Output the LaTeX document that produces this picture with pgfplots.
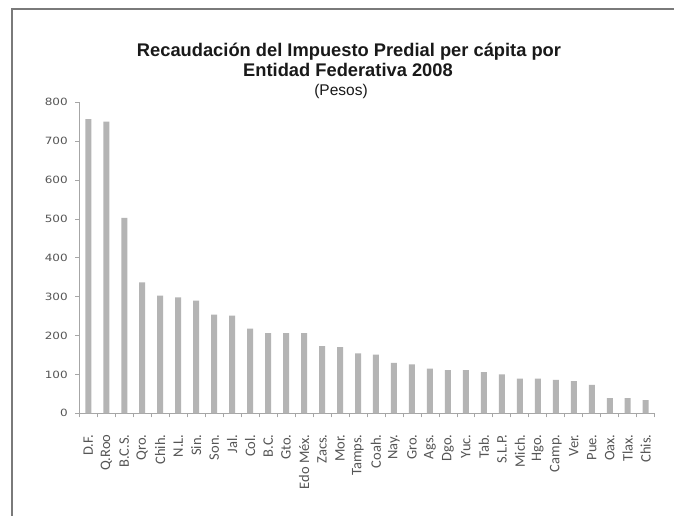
\documentclass[border=0pt]{standalone}
\usepackage{pgfplots}
\pgfplotsset{compat=1.18}
\usepackage{graphicx}
\usepackage{fontspec}
\setmainfont{Liberation Sans}
\newfontfamily\tickfont{DejaVu Sans}
\newfontfamily\labfont{Carlito}
\definecolor{barcol}{HTML}{B4B4B4}
\definecolor{axcol}{HTML}{A6A6A6}
\definecolor{txtgray}{HTML}{555555}
\definecolor{framecol}{HTML}{7A7A7A}
\begin{document}
\begin{tikzpicture}
\useasboundingbox (0pt,0pt) rectangle (674pt,-516pt);
\fill[white] (0pt,0pt) rectangle (674pt,-516pt);
\draw[framecol, line width=1.5pt] (12pt,-516pt) -- (12pt,-9pt) -- (674pt,-9pt);
\node[anchor=base, font=\bfseries\fontsize{18.3}{20}\selectfont, text=black!90] at (349pt,-57pt) {Recaudación del Impuesto Predial per cápita por};
\node[anchor=base, font=\bfseries\fontsize{18.3}{20}\selectfont, text=black!90] at (348pt,-77pt) {Entidad Federativa 2008};
\node[anchor=base, font=\fontsize{15.5}{20}\selectfont, text=black!90] at (341pt,-96pt) {(Pesos)};
\begin{axis}[
  at={(79.3pt,-413.3pt)}, anchor=south west,
  scale only axis, width=575.4pt, height=311pt,
  xmin=-0.5, xmax=31.5, ymin=0, ymax=800,
  axis x line*=bottom, axis y line*=left,
  axis line style={axcol, line width=0.8pt},
  xtick={0,...,31},
  minor xtick={-0.5,0.5,...,31.5},
  ytick={0,100,...,800},
  minor ytick={0,100,...,800},
  major tick length=0pt, minor tick length=4pt,
  tick align=outside,
  tick style={axcol, line width=0.8pt},
  xticklabels={D.F., Q.Roo, B.C.S., Qro., Chih., N.L., Sin., Son., Jal., Col., B.C., Gto., Edo Méx., Zacs., Mor., Tamps., Coah., Nay., Gro., Ags., Dgo., Yuc., Tab., S.L.P., Mich., Hgo., Camp., Ver., Pue., Oax., Tlax., Chis.},
  xticklabel style={rotate=90, anchor=east, font=\labfont\fontsize{14.5}{14.5}\selectfont, text=txtgray, inner xsep=13pt, xshift=-8pt},
  /pgf/number format/assume math mode=true,
  yticklabel={\scalebox{1.2}[1]{\pgfmathprintnumber{\tick}}},
  yticklabel style={font=\tickfont\fontsize{10}{11}\selectfont, text=txtgray, xshift=-8pt},
]
\addplot[ybar, fill=barcol, draw=none, bar width=6pt] coordinates {
(0,757) (1,750) (2,503) (3,337) (4,303) (5,298) (6,290) (7,254) (8,251) (9,218)
(10,206) (11,206) (12,206) (13,173) (14,170) (15,154) (16,151) (17,130) (18,126) (19,115)
(20,111) (21,111) (22,106) (23,100) (24,89) (25,89) (26,86) (27,83) (28,73) (29,39)
(30,39) (31,34)
};
\end{axis}
\end{tikzpicture}
\end{document}
